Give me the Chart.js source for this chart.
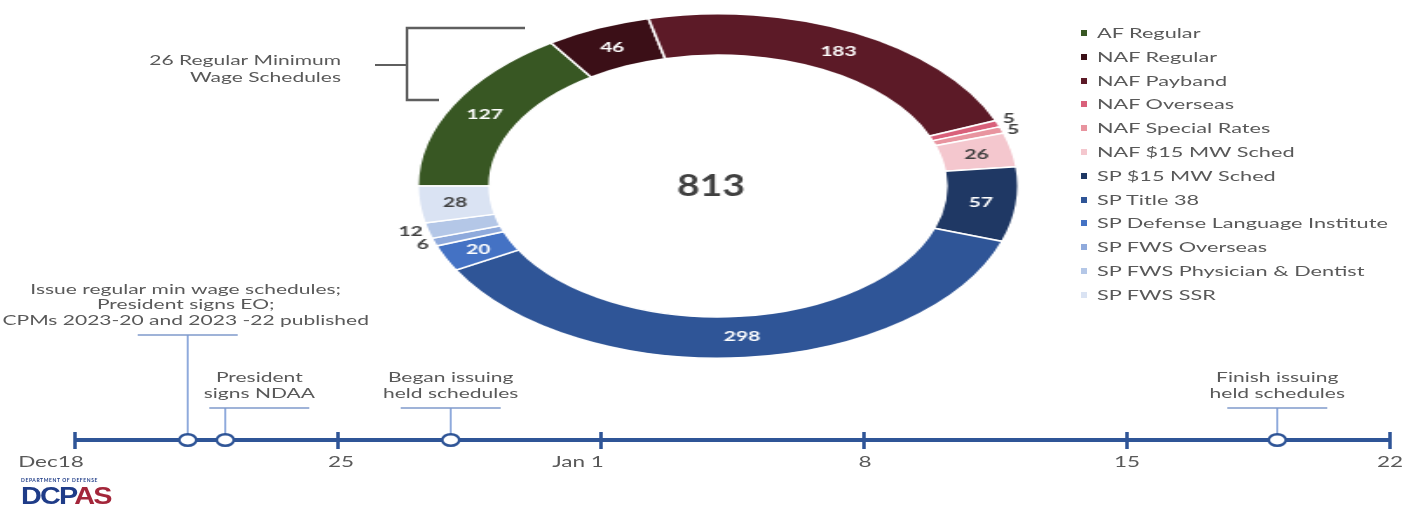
<!DOCTYPE html>
<html>
<head>
<meta charset="utf-8">
<script src="https://cdn.jsdelivr.net/npm/chart.js@4.4.0/dist/chart.umd.min.js"></script>
<style>
  html, body { margin: 0; padding: 0; background: #fff; }
  #page { position: relative; width: 1417px; height: 506px; overflow: hidden; font-family: Lato, 'Open Sans', sans-serif; }
  #timeline { position: absolute; left: 0; top: 0; }
  /* the doughnut is drawn round and stretched into the wide ellipse of the slide */
  #donut { position: absolute; left: 528px; top: 8px; transform: scaleX(1.744); transform-origin: 190px 178px; }
  .leg { position: absolute; left: 1081px; height: 20px; width: 330px; }
  .leg i { position: absolute; left: 0; top: 7px; width: 6px; height: 6px; }
  .leg span { position: absolute; left: 16px; top: 0; white-space: nowrap; font-size: 14px; line-height: 20px; color: #595959; transform: scaleX(1.55); transform-origin: left center; }
  #logo { position: absolute; left: 21px; top: 478px; }
  #logo .dod { font-size: 5px; line-height: 5px; color: #1F3C88; font-weight: bold; letter-spacing: 0.6px; white-space: nowrap; }
  #logo .dcpas { font-family: 'Liberation Sans', sans-serif; font-weight: bold; font-size: 24px; line-height: 26px; letter-spacing: -1.5px; transform: scaleX(1.2); transform-origin: left top; white-space: nowrap; }
</style>
</head>
<body>
<div id="page">
  <canvas id="timeline" width="1417" height="506"></canvas>
  <canvas id="donut" width="380" height="356"></canvas>
  <div id="legend"></div>
  <div id="logo">
    <div class="dod">DEPARTMENT OF DEFENSE</div>
    <div class="dcpas"><span style="color:#1F3C88">DCP</span><span style="color:#A3263A">AS</span></div>
  </div>
</div>
<script>
// schedule counts per category
const categories = [
  'AF Regular', 'NAF Regular', 'NAF Payband', 'NAF Overseas', 'NAF Special Rates', 'NAF $15 MW Sched',
  'SP $15 MW Sched', 'SP Title 38', 'SP Defense Language Institute', 'SP FWS Overseas',
  'SP FWS Physician & Dentist', 'SP FWS SSR'
];
const scheduleCounts = [127, 46, 183, 5, 5, 26, 57, 298, 20, 6, 12, 28];

// timeline (days after Dec 18)
const tickDays = [0, 7, 14, 21, 28, 35];
const tickLabels = ['Dec18', '25', 'Jan 1', '8', '15', '22'];
const eventDays = [3, 4, 10, 32];
const eventLabels = [
  ['Issue regular min wage schedules;', 'President signs EO;', 'CPMs 2023-20 and 2023 -22 published'],
  ['President', 'signs NDAA'],
  ['Began issuing', 'held schedules'],
  ['Finish issuing', 'held schedules']
];
const bracketNote = ['26 Regular Minimum', 'Wage Schedules'];

// styles
const sliceColors = ['#385723', '#3B0F17', '#5C1A27', '#D9607A', '#E8949F', '#F4C7CE',
  '#1F3864', '#2F5597', '#4472C4', '#8FAADC', '#B4C7E7', '#DAE3F3'];
const valueColors = ['#fff', '#fff', '#fff', '#404040', '#404040', '#404040',
  '#fff', '#fff', '#fff', '#404040', '#404040', '#404040'];
const outsideNudge = [0, 0, 0, -4, 1, 0, 0, 0, 0, 1, 0, 0];
const stemLengths = [105, 32, 32, 32];
const barShift = [0, 34, 0, 0];
const labelShift = [-2, 34, 0, 0];
const tickLabelShift = [-24, 3, -23, 1, 0, 0];

const GRAY = '#595959';
const LINE_BLUE = '#2F5597';
const STEM_BLUE = '#8FAADC';
const K = 1.744;      // css stretch of the doughnut canvas
const TS = 1.5;       // horizontal stretch of the slide text

Chart.defaults.font.family = 'Lato';

function stretchedText(ctx, text, x, y, align, font, color, sx) {
  ctx.save();
  ctx.translate(x, y);
  ctx.scale(sx, 1);
  ctx.font = font;
  ctx.fillStyle = color;
  ctx.textAlign = align;
  ctx.textBaseline = 'middle';
  ctx.fillText(text, 0, 0);
  ctx.restore();
}

// legend
const legendBox = document.getElementById('legend');
categories.forEach((name, i) => {
  const row = document.createElement('div');
  row.className = 'leg';
  row.style.top = (23 + i * 23.8) + 'px';
  const mark = document.createElement('i');
  mark.style.background = sliceColors[i];
  const txt = document.createElement('span');
  txt.textContent = name;
  row.appendChild(mark);
  row.appendChild(txt);
  legendBox.appendChild(row);
});

// doughnut
const donutLabels = {
  id: 'donutLabels',
  afterDatasetsDraw(chart) {
    const ctx = chart.ctx;
    const meta = chart.getDatasetMeta(0);
    const vals = chart.data.datasets[0].data;
    let cx = 0, cy = 0;
    meta.data.forEach((arc, i) => {
      const p = arc.getProps(['x', 'y', 'startAngle', 'endAngle', 'innerRadius', 'outerRadius'], true);
      cx = p.x; cy = p.y;
      const mid = (p.startAngle + p.endAngle) / 2;
      const outside = vals[i] < 15;
      const r = outside ? p.outerRadius + 3 : (p.innerRadius + p.outerRadius) / 2;
      const lx = p.x + Math.cos(mid) * r;
      const ly = p.y + Math.sin(mid) * r + outsideNudge[i];
      const align = outside ? (Math.cos(mid) < 0 ? 'right' : 'left') : 'center';
      stretchedText(ctx, String(vals[i]), lx, ly, align, 'bold 14px Lato', valueColors[i], TS / K);
    });
    const total = vals.reduce((a, b) => a + b, 0);
    stretchedText(ctx, String(total), cx - 4, cy, 'center', 'bold 30px Lato', '#404040', 1.3 / K);
  }
};

new Chart(document.getElementById('donut'), {
  type: 'doughnut',
  data: {
    labels: categories,
    datasets: [{
      data: scheduleCounts,
      backgroundColor: sliceColors,
      borderColor: '#fff',
      borderWidth: 1.5,
      hoverOffset: 0
    }]
  },
  options: {
    responsive: false,
    animation: false,
    cutout: '76%',
    rotation: -90,
    layout: { padding: { top: 5, bottom: 5 } },
    plugins: { legend: { display: false }, tooltip: { enabled: false } }
  },
  plugins: [donutLabels]
});

// timeline
const ring = document.createElement('canvas');
ring.width = 22; ring.height = 16;
(function () {
  const c = ring.getContext('2d');
  c.beginPath();
  c.ellipse(11, 8, 8.5, 5.8, 0, 0, Math.PI * 2);
  c.fillStyle = '#fff';
  c.fill();
  c.lineWidth = 2.6;
  c.strokeStyle = LINE_BLUE;
  c.stroke();
})();

const timelineDraw = {
  id: 'timelineDraw',
  beforeDatasetsDraw(chart) {
    const ctx = chart.ctx;
    const xs = chart.scales.x;
    const base = chart.scales.y.getPixelForValue(0);
    ctx.save();
    ctx.lineCap = 'butt';

    // bracket beside the doughnut
    ctx.strokeStyle = '#5f5f5f';
    ctx.lineWidth = 2.6;
    ctx.beginPath();
    ctx.moveTo(525, 28); ctx.lineTo(407, 28); ctx.lineTo(407, 100); ctx.lineTo(439, 100);
    ctx.stroke();
    ctx.lineWidth = 2;
    ctx.beginPath();
    ctx.moveTo(375, 65); ctx.lineTo(407, 65);
    ctx.stroke();
    bracketNote.forEach((t, i) => stretchedText(ctx, t, 341, 60 + i * 17, 'right', '14px Lato', GRAY, TS));

    // stems, bars and event labels
    eventDays.forEach((d, i) => {
      const x = xs.getPixelForValue(d);
      const top = base - stemLengths[i];
      ctx.strokeStyle = STEM_BLUE;
      ctx.lineWidth = 2;
      ctx.beginPath();
      ctx.moveTo(x, base); ctx.lineTo(x, top);
      ctx.stroke();
      ctx.strokeStyle = '#7F9ACB';
      ctx.lineWidth = 1.5;
      ctx.beginPath();
      ctx.moveTo(x + barShift[i] - 50, top); ctx.lineTo(x + barShift[i] + 50, top);
      ctx.stroke();
      const lines = eventLabels[i];
      lines.forEach((t, j) => {
        const y = top - 15 - (lines.length - 1 - j) * 15.5;
        stretchedText(ctx, t, x + labelShift[i], y, 'center', '14px Lato', GRAY, TS);
      });
    });

    // main axis line and week ticks
    ctx.strokeStyle = LINE_BLUE;
    ctx.lineWidth = 4;
    ctx.beginPath();
    ctx.moveTo(xs.left, base); ctx.lineTo(xs.right, base);
    ctx.stroke();
    ctx.lineWidth = 3.5;
    tickDays.forEach((d, i) => {
      const x = xs.getPixelForValue(d);
      ctx.beginPath();
      ctx.moveTo(x, base - 8); ctx.lineTo(x, base + 9);
      ctx.stroke();
      stretchedText(ctx, tickLabels[i], x + tickLabelShift[i], base + 22, 'center', '15px Lato', GRAY, TS);
    });
    ctx.restore();
  }
};

new Chart(document.getElementById('timeline'), {
  type: 'scatter',
  data: {
    datasets: [{
      data: eventDays.map(d => ({ x: d, y: 0 })),
      pointStyle: ring,
      pointRadius: 8,
      clip: false
    }]
  },
  options: {
    responsive: false,
    animation: false,
    layout: { padding: { left: 75, right: 27, top: 270, bottom: 66 } },
    scales: {
      x: { display: false, min: 0, max: 35 },
      y: { display: false, min: 0, max: 1 }
    },
    plugins: { legend: { display: false }, tooltip: { enabled: false } }
  },
  plugins: [timelineDraw]
});
</script>
</body>
</html>
